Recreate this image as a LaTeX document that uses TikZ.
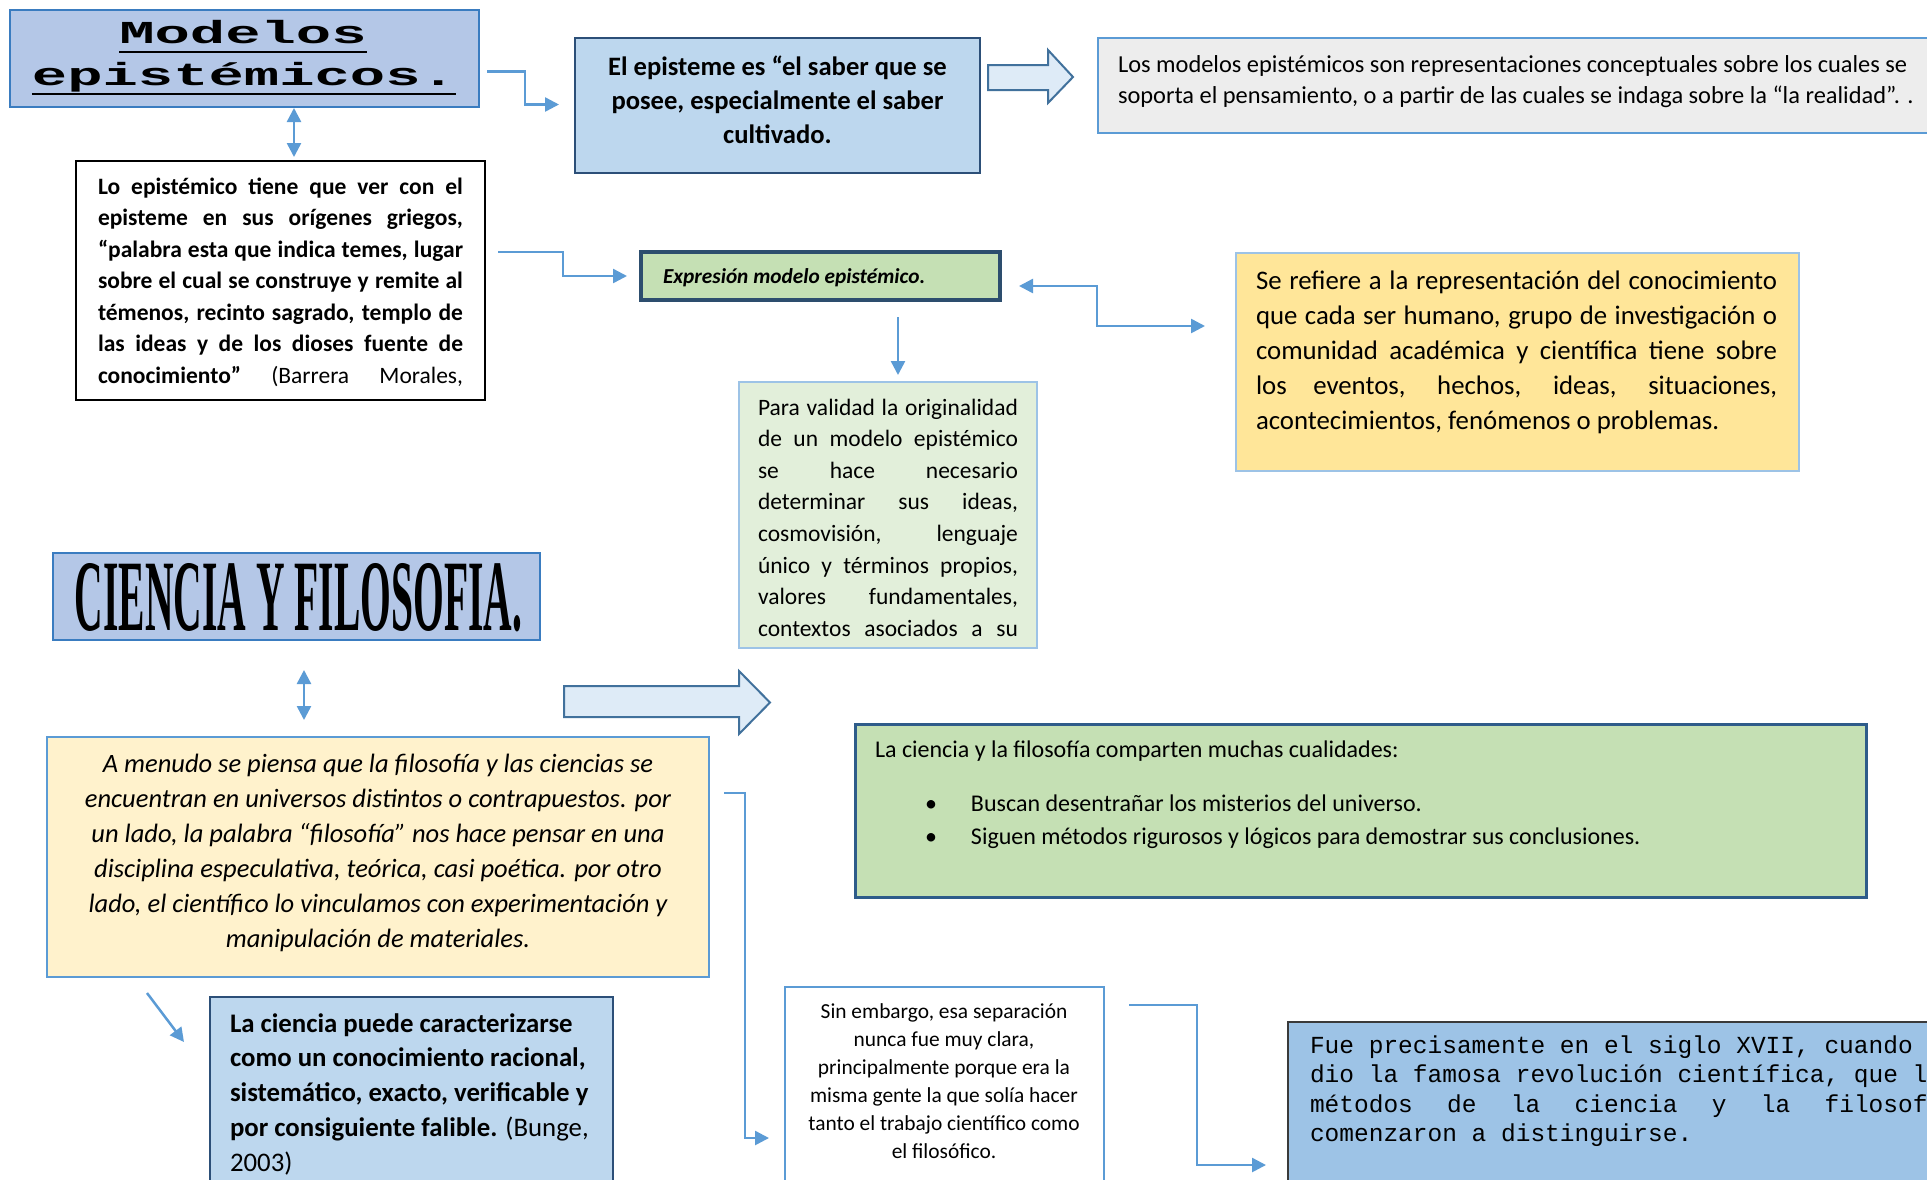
\documentclass[tikz,border=0pt]{standalone}
\usepackage{fontspec}
\usepackage{graphicx}
\setmainfont{Carlito}
\newfontfamily\monofont{Liberation Mono}
\newfontfamily\titleserif{Liberation Serif}
\usetikzlibrary{arrows.meta,calc}
\definecolor{titlefill}{HTML}{B4C7E7}
\definecolor{titledraw}{HTML}{3A7CC0}
\definecolor{epfill}{HTML}{BDD7EE}
\definecolor{epdraw}{HTML}{2C4F78}
\definecolor{losfill}{HTML}{EDEDED}
\definecolor{lightdraw}{HTML}{5B9BD5}
\definecolor{expfill}{HTML}{C5E0B4}
\definecolor{expdraw}{HTML}{2D4E6E}
\definecolor{parafill}{HTML}{E2EFDA}
\definecolor{paledraw}{HTML}{9DC3E6}
\definecolor{yelfill}{HTML}{FFE699}
\definecolor{itfill}{HTML}{FFF2CC}
\definecolor{grndraw}{HTML}{2E5C8A}
\definecolor{fuefill}{HTML}{9DC3E6}
\definecolor{fuedraw}{HTML}{3A3A3A}
\definecolor{arrfill}{HTML}{DEEBF7}
\definecolor{arrdraw}{HTML}{41719C}
\definecolor{connblue}{HTML}{5B9BD5}
\newcommand\J[1]{\makebox[\linewidth][s]{#1}}
\newcommand\ttl[1]{\setbox0=\hbox{\scalebox{1.84}[1]{#1}}\rlap{\rule[-10pt]{\wd0}{2.5pt}}\box0}
\tikzset{
  bx/.style={draw, rectangle, inner sep=0pt, outer sep=0pt, anchor=north west},
  txt/.style={inner sep=0pt, outer sep=0pt, anchor=base west, text=black, align=flush left},
  ctxt/.style={inner sep=0pt, outer sep=0pt, anchor=base, text=black, align=flush center},
  conn/.style={draw=connblue, line width=2.5pt, line join=miter, -{Triangle[length=14pt,width=14pt]}},
  conntwo/.style={draw=connblue, line width=2.5pt, {Triangle[length=14pt,width=14pt]}-{Triangle[length=14pt,width=14pt]}},
  blockarrow/.style={fill=arrfill, draw=arrdraw, line width=2pt, line join=miter},
}
\begin{document}
\begin{tikzpicture}[x=1pt,y=-1pt]
\path[use as bounding box] (0,0) rectangle (1927,1179);
\clip (0,0) rectangle (1927,1179);
\fill[white] (0,0) rectangle (1927,1179);

% ---------- boxes ----------
\node[bx, draw=titledraw, fill=titlefill, line width=2pt, minimum width=469pt, minimum height=97pt] (mod) at (10,10) {};
\node[bx, draw=epdraw, fill=epfill, line width=2.5pt, minimum width=405pt, minimum height=135pt] (epi) at (575,38) {};
\node[bx, draw=lightdraw, fill=losfill, line width=2.5pt, minimum width=870pt, minimum height=95pt] (los) at (1098,38) {};
\node[bx, draw=black, fill=white, line width=2pt, minimum width=409pt, minimum height=239pt] (lo) at (76,161) {};
\node[bx, draw=expdraw, fill=expfill, line width=3.5pt, minimum width=359pt, minimum height=48pt] (exp) at (641,252) {};
\node[bx, draw=paledraw, fill=parafill, line width=2.5pt, minimum width=298pt, minimum height=266pt] (para) at (739,382) {};
\node[bx, draw=paledraw, fill=yelfill, line width=2.5pt, minimum width=563pt, minimum height=218pt] (sere) at (1236,253) {};
\node[bx, draw=titledraw, fill=titlefill, line width=2.5pt, minimum width=487pt, minimum height=87pt] (cien) at (53,553) {};
\node[bx, draw=lightdraw, fill=itfill, line width=2.5pt, minimum width=662pt, minimum height=240pt] (amen) at (47,737) {};
\node[bx, draw=grndraw, fill=expfill, line width=3pt, minimum width=1011pt, minimum height=173pt] (comp) at (855,724) {};
\node[bx, draw=epdraw, fill=epfill, line width=2.5pt, minimum width=403pt, minimum height=220pt] (bun) at (210,997) {};
\node[bx, draw=lightdraw, fill=white, line width=2.5pt, minimum width=319pt, minimum height=230pt] (sin) at (785,987) {};
\node[bx, draw=fuedraw, fill=fuefill, line width=1.5pt, minimum width=700pt, minimum height=200pt] (fue) at (1288,1022) {};

% ---------- block arrows ----------
\draw[blockarrow] (988,65) -- (1048,65) -- (1048,50) -- (1073,77) -- (1048,103) -- (1048,90) -- (988,90) -- cycle;
\draw[blockarrow] (564,686) -- (739,686) -- (739,671) -- (770,702.5) -- (739,734) -- (739,717) -- (564,717) -- cycle;

% ---------- texts ----------
\node[inner sep=0pt, outer sep=0pt, anchor=base, font=\monofont\bfseries\fontsize{32}{42}\selectfont] (modta) at (243,43) {\ttl{Modelos}};
\node[inner sep=0pt, outer sep=0pt, anchor=base, font=\monofont\bfseries\fontsize{32}{42}\selectfont] (modtb) at (244,85) {\ttl{epistémicos.}};

\node[ctxt, text width=380pt, font=\bfseries\fontsize{26.6}{34}\selectfont] (epit) at (777.5,75) {El episteme es “el saber que se\\posee, especialmente el saber\\cultivado.};

\node[txt, text width=900pt, font=\fontsize{24.4}{30.5}\selectfont] (lost) at (1118,72.5) {Los modelos epistémicos son representaciones conceptuales sobre los cuales se\\soporta el pensamiento, o a partir de las cuales se indaga sobre la “la realidad”. .};

\node[txt, text width=365pt, font=\bfseries\fontsize{23.5}{31.5}\selectfont] (lot) at (98,194) {\J{Lo epistémico tiene que ver con el}\\\J{episteme en sus orígenes griegos,}\\\J{“palabra esta que indica temes, lugar}\\\J{sobre el cual se construye y remite al}\\\J{témenos, recinto sagrado, templo de}\\\J{las ideas y de los dioses fuente de}\\\J{conocimiento” {\mdseries (Barrera Morales,}}};

\node[txt, font=\bfseries\itshape\fontsize{21.3}{25}\selectfont] (expt) at (663,283) {Expresión modelo epistémico.};

\node[txt, text width=260pt, font=\fontsize{23.5}{31.6}\selectfont] (parat) at (758,415) {\J{Para validad la originalidad}\\\J{de un modelo epistémico}\\\J{se hace necesario}\\\J{determinar sus ideas,}\\\J{cosmovisión, lenguaje}\\\J{único y términos propios,}\\\J{valores fundamentales,}\\\J{contextos asociados a su}};

\node[txt, text width=521pt, font=\fontsize{26.8}{35.2}\selectfont] (seret) at (1256,289) {\J{Se refiere a la representación del conocimiento}\\\J{que cada ser humano, grupo de investigación o}\\\J{comunidad académica y científica tiene sobre}\\\J{los eventos, hechos, ideas, situaciones,}\\acontecimientos, fenómenos o problemas.};

\node[inner sep=0pt, outer sep=0pt, anchor=base] (cient) at (298.5,630) {\resizebox{447pt}{67pt}{\titleserif\bfseries CIENCIA Y FILOSOFIA.}};

\node[ctxt, text width=640pt, font=\itshape\fontsize{26.5}{35}\selectfont] (ament) at (378,772) {A menudo se piensa que la filosofía y las ciencias se\\encuentran en universos distintos o contrapuestos. por\\un lado, la palabra “filosofía” nos hace pensar en una\\disciplina especulativa, teórica, casi poética. por otro\\lado, el científico lo vinculamos con experimentación y\\manipulación de materiales.};

\node[txt, text width=980pt, font=\fontsize{24}{33}\selectfont] (compt) at (875,757) {La ciencia y la filosofía comparten muchas cualidades:\\[21pt]\hspace*{50pt}\makebox[46pt][l]{•}Buscan desentrañar los misterios del universo.\\\hspace*{50pt}\makebox[46pt][l]{•}Siguen métodos rigurosos y lógicos para demostrar sus conclusiones.};

\node[txt, text width=400pt, font=\bfseries\fontsize{26.8}{34.8}\selectfont] (bunt) at (230,1032) {La ciencia puede caracterizarse\\como un conocimiento racional,\\sistemático, exacto, verificable y\\por consiguiente falible. {\mdseries (Bunge,}\\{\mdseries 2003)}};

\node[ctxt, text width=300pt, font=\fontsize{21.4}{28}\selectfont] (sint) at (944,1018) {Sin embargo, esa separación\\nunca fue muy clara,\\principalmente porque era la\\misma gente la que solía hacer\\tanto el trabajo científico como\\el filosófico.};

\node[txt, text width=647pt, font=\monofont\fontsize{24.5}{29.6}\selectfont] (fuet) at (1310,1053) {Fue precisamente en el siglo XVII, cuando se\\dio la famosa revolución científica, que los\\\makebox[\linewidth][l]{métodos\hfill de\hfill la\hfill ciencia\hfill y\hfill la\hfill filosofía}\\comenzaron a distinguirse.};

% ---------- connectors ----------
\draw[conn] ($(mod.east)+(8,13)$) -- ++(38,0) |- ($(epi.west)+(-16,-1)$);
\draw[conntwo] ($(mod.south west)+(284,1)$) -- ($(lo.north west)+(218,-4)$);
\draw[conn] ($(lo.north east)+(13,91)$) -- ++(65,0) |- ($(exp.west)+(-14,0)$);
\draw[conn] ($(exp.south west)+(257,17)$) -- ($(para.north west)+(159,-7)$);
\draw[conntwo] ($(exp.east)+(19,10)$) -- ++(78,0) |- ($(sere.west)+(-31,-36)$);
\draw[conntwo] ($(cien.south west)+(251,30)$) -- ($(amen.north west)+(257,-17)$);
\draw[conn] ($(amen.north east)+(15,56)$) -- ++(21,0) |- ($(sin.north west)+(-16,151)$);
\draw[conn] ($(amen.south west)+(100,16)$) -- ($(bun.north west)+(-26,45)$);
\draw[conn] ($(sin.north east)+(25,18)$) -- ++(68,0) |- ($(fue.north west)+(-22,143)$);
\end{tikzpicture}
\end{document}
